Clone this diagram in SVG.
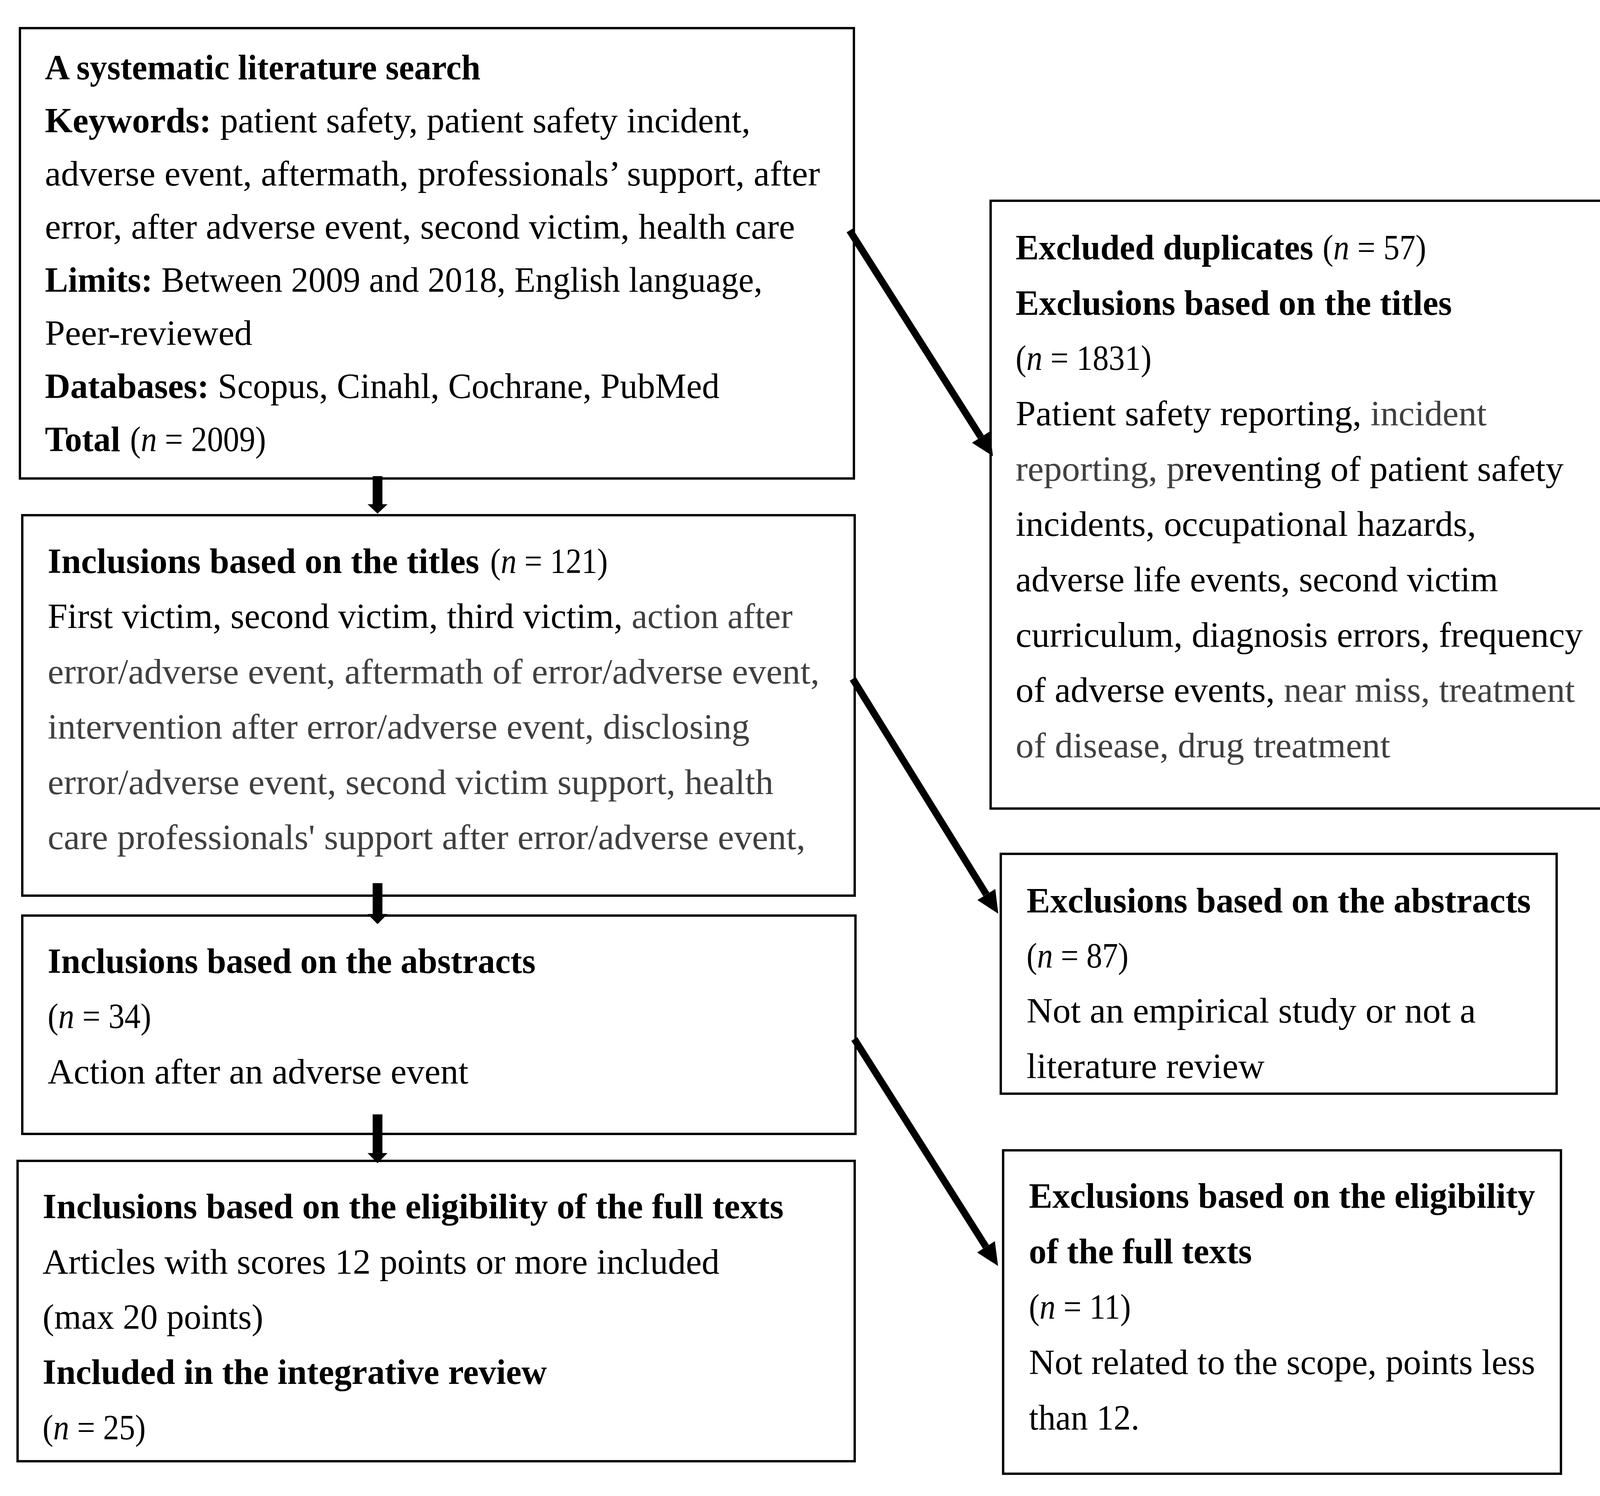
<svg xmlns="http://www.w3.org/2000/svg" width="4212" height="3830" viewBox="0 0 4212 3830">
<style>
.box{fill:#fff;stroke:#000;stroke-width:6}
.t{font-family:"Liberation Serif","Times New Roman",serif;font-size:90px;fill:#000}
.b{font-weight:bold}
.g{fill:#404040}
.i{font-style:italic}
.conn{stroke:#000;stroke-width:18;fill:none}
.vh{fill:#000}
</style>
<defs>
<marker id="ah" markerUnits="userSpaceOnUse" markerWidth="60" markerHeight="54" refX="0" refY="27" orient="auto" viewBox="0 0 60 54">
<path d="M0,0 L58,27 L0,54 z" fill="#000"/>
</marker>
</defs>
<rect x="0" y="0" width="4212" height="3830" fill="#fff"/>

<g id="search">
<rect class="box" x="51" y="72" width="2135" height="1153"/>
<text class="t b" x="115" y="203" textLength="1115" lengthAdjust="spacingAndGlyphs">A systematic literature search</text>
<text class="t" x="115" y="339" textLength="1806" lengthAdjust="spacingAndGlyphs"><tspan class="b">Keywords:</tspan> patient safety, patient safety incident,</text>
<text class="t" x="115" y="475" textLength="1984" lengthAdjust="spacingAndGlyphs">adverse event, aftermath, professionals’ support, after</text>
<text class="t" x="115" y="611" textLength="1920" lengthAdjust="spacingAndGlyphs">error, after adverse event, second victim, health care</text>
<text class="t" x="115" y="747" textLength="1837" lengthAdjust="spacingAndGlyphs"><tspan class="b">Limits:</tspan> Between 2009 and 2018, English language,</text>
<text class="t" x="115" y="883" textLength="531" lengthAdjust="spacingAndGlyphs">Peer-reviewed</text>
<text class="t" x="115" y="1019" textLength="1727" lengthAdjust="spacingAndGlyphs"><tspan class="b">Databases:</tspan> Scopus, Cinahl, Cochrane, PubMed</text>
<text class="t b" x="115" y="1155" textLength="193" lengthAdjust="spacingAndGlyphs">Total</text>
<text class="t" x="333" y="1155" textLength="348" lengthAdjust="spacingAndGlyphs">(<tspan class="i">n</tspan> = 2009)</text>
</g>

<g id="incl-titles">
<rect class="box" x="57" y="1319" width="2131" height="974"/>
<text class="t b" x="122" y="1467" textLength="1105" lengthAdjust="spacingAndGlyphs">Inclusions based on the titles</text>
<text class="t" x="1255" y="1467" textLength="301" lengthAdjust="spacingAndGlyphs">(<tspan class="i">n</tspan> = 121)</text>
<text class="t" x="122" y="1608" textLength="1907" lengthAdjust="spacingAndGlyphs">First victim, second victim, third victim, <tspan class="g">action after</tspan></text>
<text class="t g" x="122" y="1750" textLength="1976" lengthAdjust="spacingAndGlyphs">error/adverse event, aftermath of error/adverse event,</text>
<text class="t g" x="122" y="1891" textLength="1797" lengthAdjust="spacingAndGlyphs">intervention after error/adverse event, disclosing</text>
<text class="t g" x="122" y="2033" textLength="1858" lengthAdjust="spacingAndGlyphs">error/adverse event, second victim support, health</text>
<text class="t g" x="122" y="2174" textLength="1940" lengthAdjust="spacingAndGlyphs">care professionals' support after error/adverse event,</text>
</g>

<g id="incl-abstracts">
<rect class="box" x="57" y="2344" width="2133" height="559"/>
<text class="t b" x="122" y="2491" textLength="1249" lengthAdjust="spacingAndGlyphs">Inclusions based on the abstracts</text>
<text class="t" x="122" y="2632" textLength="265" lengthAdjust="spacingAndGlyphs">(<tspan class="i">n</tspan> = 34)</text>
<text class="t" x="122" y="2774" textLength="1077" lengthAdjust="spacingAndGlyphs">Action after an adverse event</text>
</g>

<g id="incl-fulltexts">
<rect class="box" x="45" y="2972" width="2143" height="769"/>
<text class="t b" x="109" y="3119" textLength="1897" lengthAdjust="spacingAndGlyphs">Inclusions based on the eligibility of the full texts</text>
<text class="t" x="109" y="3261" textLength="1733" lengthAdjust="spacingAndGlyphs">Articles with scores 12 points or more included</text>
<text class="t" x="109" y="3402" textLength="565" lengthAdjust="spacingAndGlyphs">(max 20 points)</text>
<text class="t b" x="109" y="3543" textLength="1291" lengthAdjust="spacingAndGlyphs">Included in the integrative review</text>
<text class="t" x="109" y="3685" textLength="264" lengthAdjust="spacingAndGlyphs">(<tspan class="i">n</tspan> = 25)</text>
</g>

<g id="excl-titles">
<rect class="box" x="2536" y="514" width="1586" height="1556"/>
<text class="t b" x="2600" y="664" textLength="762" lengthAdjust="spacingAndGlyphs">Excluded duplicates</text>
<text class="t" x="3386" y="664" textLength="265" lengthAdjust="spacingAndGlyphs">(<tspan class="i">n</tspan> = 57)</text>
<text class="t b" x="2600" y="806" textLength="1117" lengthAdjust="spacingAndGlyphs">Exclusions based on the titles</text>
<text class="t" x="2600" y="947" textLength="348" lengthAdjust="spacingAndGlyphs">(<tspan class="i">n</tspan> = 1831)</text>
<text class="t" x="2600" y="1089" textLength="1206" lengthAdjust="spacingAndGlyphs">Patient safety reporting, <tspan class="g">incident</tspan></text>
<text class="t" x="2600" y="1231" textLength="1403" lengthAdjust="spacingAndGlyphs"><tspan class="g">reporting, p</tspan>reventing of patient safety</text>
<text class="t" x="2600" y="1372" textLength="1179" lengthAdjust="spacingAndGlyphs">incidents, occupational hazards,</text>
<text class="t" x="2600" y="1514" textLength="1235" lengthAdjust="spacingAndGlyphs">adverse life events, second victim</text>
<text class="t" x="2600" y="1656" textLength="1452" lengthAdjust="spacingAndGlyphs">curriculum, diagnosis errors, frequency</text>
<text class="t" x="2600" y="1797" textLength="1432" lengthAdjust="spacingAndGlyphs">of adverse events, <tspan class="g">near miss, treatment</tspan></text>
<text class="t g" x="2600" y="1939" textLength="959" lengthAdjust="spacingAndGlyphs">of disease, drug treatment</text>
</g>

<g id="excl-abstracts">
<rect class="box" x="2562" y="2186" width="1423" height="614"/>
<text class="t b" x="2628" y="2336" textLength="1291" lengthAdjust="spacingAndGlyphs">Exclusions based on the abstracts</text>
<text class="t" x="2628" y="2477" textLength="261" lengthAdjust="spacingAndGlyphs">(<tspan class="i">n</tspan> = 87)</text>
<text class="t" x="2628" y="2618" textLength="1150" lengthAdjust="spacingAndGlyphs">Not an empirical study or not a</text>
<text class="t" x="2628" y="2760" textLength="609" lengthAdjust="spacingAndGlyphs">literature review</text>
</g>

<g id="excl-fulltexts">
<rect class="box" x="2568" y="2945" width="1428" height="828"/>
<text class="t b" x="2634" y="3092" textLength="1296" lengthAdjust="spacingAndGlyphs">Exclusions based on the eligibility</text>
<text class="t b" x="2634" y="3234" textLength="571" lengthAdjust="spacingAndGlyphs">of the full texts</text>
<text class="t" x="2634" y="3376" textLength="261" lengthAdjust="spacingAndGlyphs">(<tspan class="i">n</tspan> = 11)</text>
<text class="t" x="2634" y="3518" textLength="1296" lengthAdjust="spacingAndGlyphs">Not related to the scope, points less</text>
<text class="t" x="2634" y="3660" textLength="283" lengthAdjust="spacingAndGlyphs">than 12.</text>
</g>

<g id="connectors">
<path class="vh" d="M954,1219 H979 V1291 H992 L966.5,1315 L941,1291 H954 Z"/>
<path class="vh" d="M954,2261 H979 V2340 H992 L966.5,2366 L941,2340 H954 Z"/>
<path class="vh" d="M954,2853 H979 V2952 H992 L966.5,2978 L941,2952 H954 Z"/>
<line class="conn" x1="2175" y1="590" x2="2511" y2="1119" marker-end="url(#ah)"/>
<line class="conn" x1="2183" y1="1738" x2="2525" y2="2290" marker-end="url(#ah)"/>
<line class="conn" x1="2187" y1="2660" x2="2524" y2="3192" marker-end="url(#ah)"/>
</g>
</svg>
